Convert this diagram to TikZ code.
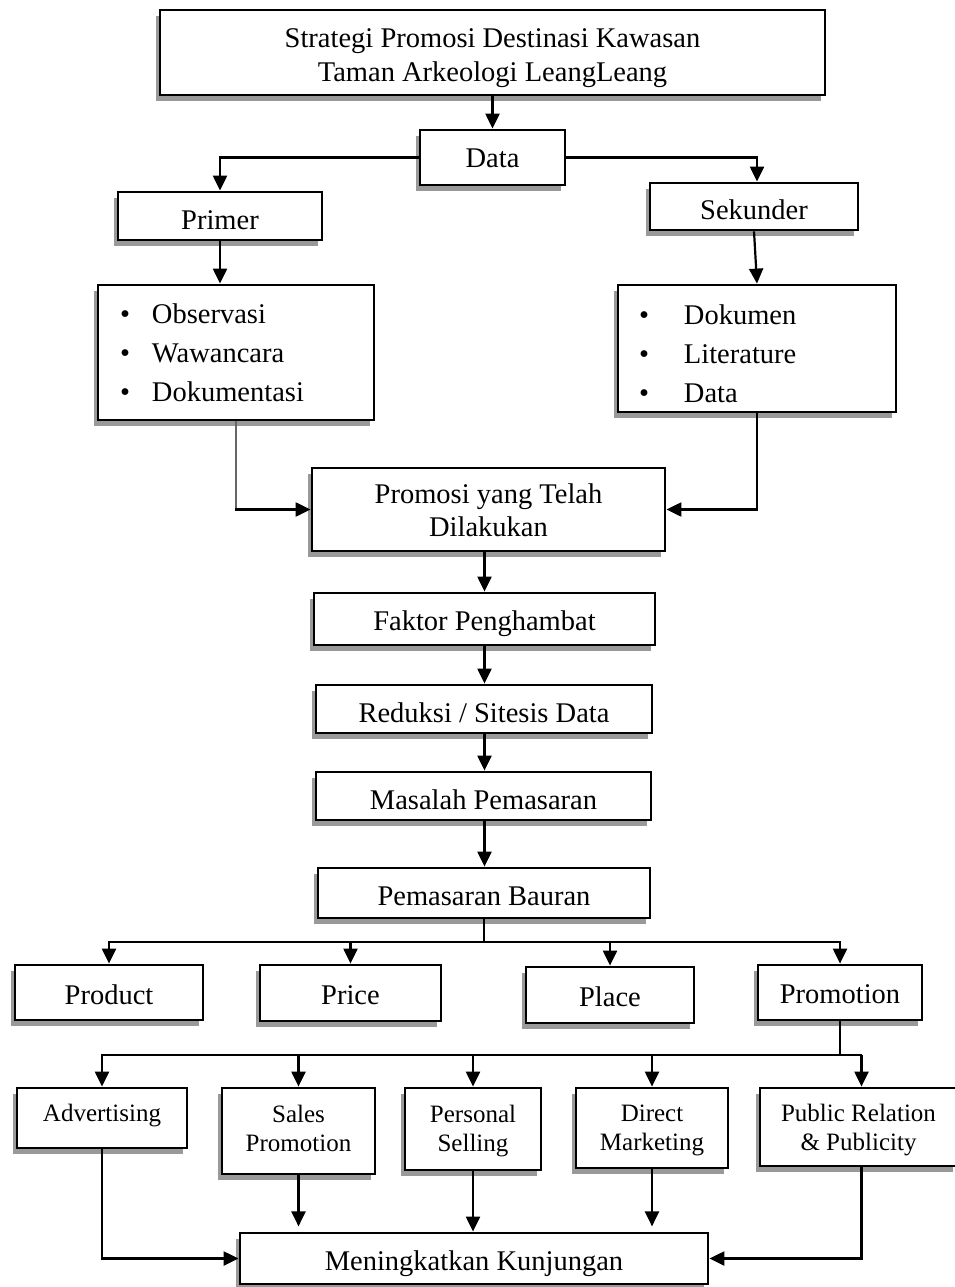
\documentclass[tikz,border=0pt]{standalone}
\usepackage{fontspec}
\setmainfont{Liberation Serif}
\usetikzlibrary{arrows.meta,shadows}
\newcommand\lw[2][4pt]{\raisebox{-#1}[\height][\depth]{#2}}
\newcommand\two[2]{\begin{tabular}{@{}c@{}}#1\\#2\end{tabular}}
\newcommand\three[4]{\begin{tabular}{@{}l@{}}\makebox[#1][l]{\textbullet}#2\\[6pt]\makebox[#1][l]{\textbullet}#3\\[6pt]\makebox[#1][l]{\textbullet}#4\end{tabular}}
\tikzset{
  box/.style={draw, line width=2.8pt, fill=white, inner sep=0pt, align=center,
    font=\fontsize{28.5}{33}\selectfont,
    drop shadow={shadow xshift=-4pt, shadow yshift=-6pt, fill=black!40, opacity=1}},
  smallbox/.style={box, font=\fontsize{25}{29}\selectfont},
  listbox/.style={box, align=left, inner xsep=0pt},
  arr/.style={line width=2.2pt, -{Triangle[length=15pt,width=14pt]}},
  ln/.style={line width=2.2pt},
}
\begin{document}
\begin{tikzpicture}[x=1pt,y=-1pt]
\useasboundingbox (0,0) rectangle (954,1287);
% top
\node[box, minimum width=665, minimum height=85, font=\fontsize{28.5}{34}\selectfont] (top) at (492.5,52.5) {\lw[5.5pt]{\two{Strategi Promosi Destinasi Kawasan}{Taman Arkeologi LeangLeang}}};
\node[box, minimum width=145, minimum height=55] (data) at (492.5,157.5) {\lw[1pt]{Data}};
\node[box, minimum width=204, minimum height=48] (primer) at (220,216) {\lw{Primer}};
\node[box, minimum width=208, minimum height=47] (sek) at (754,206.5) {\lw[3pt]{Sekunder}};
\node[listbox, minimum width=276, minimum height=135, text width=276] (plist) at (236,352.5)
  {\hspace*{22pt}\lw[3.5pt]{\three{32pt}{Observasi}{Wawancara}{Dokumentasi}}};
\node[listbox, minimum width=278, minimum height=127, text width=278] (slist) at (757,348.5)
  {\hspace*{21pt}\lw[8pt]{\three{45pt}{Dokumen}{Literature}{Data}}};
\node[box, minimum width=353, minimum height=83] (prom) at (488.5,509.5) {\lw{\two{Promosi yang Telah}{Dilakukan}}};
\node[box, minimum width=341, minimum height=52] (faktor) at (484.5,619) {\lw[5pt]{Faktor Penghambat}};
\node[box, minimum width=336, minimum height=48] (reduksi) at (484,709) {\lw{Reduksi / Sitesis Data}};
\node[box, minimum width=335, minimum height=48] (masalah) at (483.5,796) {\lw{Masalah Pemasaran}};
\node[box, minimum width=332, minimum height=50] (bauran) at (484,893) {\lw[3pt]{Pemasaran Bauran}};
% 4P
\node[box, minimum width=188, minimum height=55] (product) at (109,992.5) {\lw[2pt]{Product}};
\node[box, minimum width=181, minimum height=56] (price) at (350.5,993) {\lw[2pt]{Price}};
\node[box, minimum width=168, minimum height=56] (place) at (610,995) {\lw[2pt]{Place}};
\node[box, minimum width=164, minimum height=55] (promotion) at (840,992.5) {\lw[2pt]{Promotion}};
% promotion mix
\node[smallbox, minimum width=170, minimum height=60] (adv) at (102,1118) {\lw[-2pt]{Advertising}};
\node[smallbox, minimum width=153, minimum height=86] (sales) at (298.5,1131) {\lw[0pt]{\two{Sales}{Promotion}}};
\node[smallbox, minimum width=136, minimum height=82] (personal) at (473,1129) {\lw[2pt]{\two{Personal}{Selling}}};
\node[smallbox, minimum width=152, minimum height=80] (direct) at (652,1128) {\lw[2pt]{\two{Direct}{Marketing}}};
\node[smallbox, minimum width=197, minimum height=78] (public) at (858.5,1127) {\lw[3pt]{\two{Public Relation}{\& Publicity}}};
\node[box, minimum width=468, minimum height=51] (mening) at (474,1258.5) {\lw[5pt]{Meningkatkan Kunjungan}};
% connectors
\draw[arr] (top.south) -- (data.north);
\draw[arr] (data.west) -| (primer.north);
\draw[arr] (data.east) -| ([xshift=3pt]sek.north);
\draw[arr] (primer.south) -- (primer.south |- plist.north);
\draw[arr] (sek.south) -- (slist.north);
\draw[line width=1.2pt, black!60] (plist.south) -- (plist.south |- prom.west);
\draw[arr] ([xshift=-0.6pt]plist.south |- prom.west) -- (prom.west);
\draw[arr] (slist.south) |- (prom.east);
\draw[arr] (faktor.north |- prom.south) -- (faktor.north);
\draw[arr] (faktor.south) -- (faktor.south |- reduksi.north);
\draw[arr] (faktor.south |- reduksi.south) -- (faktor.south |- masalah.north);
\draw[arr] (faktor.south |- masalah.south) -- (faktor.south |- bauran.north);
\coordinate (b) at (484,942);
\draw[ln] (bauran.south -| b) -- (b);
\draw[ln] ([xshift=-1.1pt]product.north |- b) -- ([xshift=1.1pt]promotion.north |- b);
\draw[arr] (product.north |- b) -- (product.north);
\draw[arr] (price.north |- b) -- (price.north);
\draw[arr] (place.north |- b) -- (place.north);
\draw[arr] (promotion.north |- b) -- (promotion.north);
\coordinate (c) at (840,1055);
\draw[ln] (promotion.south) -- ([yshift=-1.1pt]c);
\draw[ln] ([xshift=-1.1pt]adv.north |- c) -- ([xshift=3pt]public.north |- c);
\draw[arr] (adv.north |- c) -- (adv.north);
\draw[arr] (sales.north |- c) -- (sales.north);
\draw[arr] (personal.north |- c) -- (personal.north);
\draw[arr] (direct.north |- c) -- (direct.north);
\draw[arr] ([xshift=3pt]public.north |- c) -- ([xshift=3pt]public.north);
\draw[arr] (sales.south) -- ++(0,51);
\draw[arr] (personal.south) -- (personal.south |- mening.north);
\draw[arr] (direct.south) -- ++(0,57);
\draw[arr] (adv.south) |- (mening.west);
\draw[arr] ([xshift=3pt]public.south) |- (mening.east);
\end{tikzpicture}
\end{document}
